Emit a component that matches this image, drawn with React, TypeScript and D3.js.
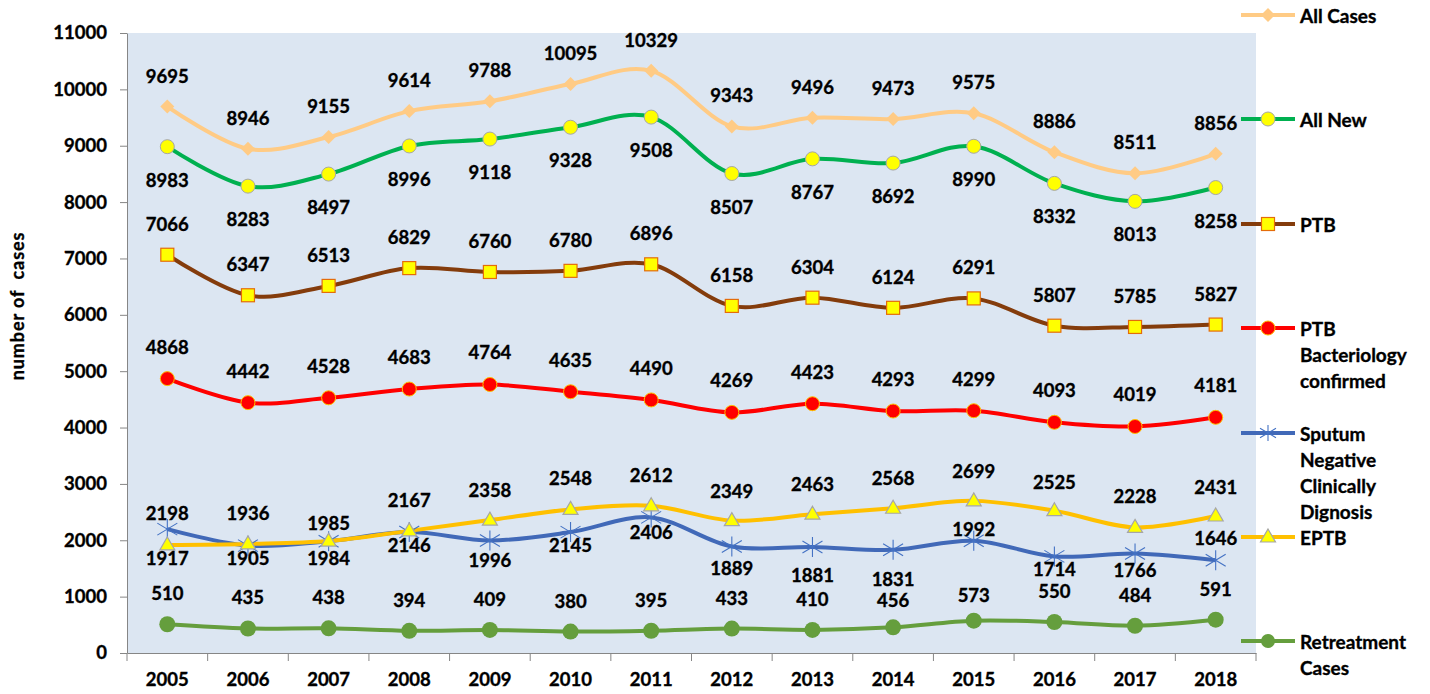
import React, { useEffect, useRef } from 'react';
import * as d3 from 'd3';

const years = ['2005', '2006', '2007', '2008', '2009', '2010', '2011', '2012', '2013', '2014', '2015', '2016', '2017', '2018'];

const allCases = [9695, 8946, 9155, 9614, 9788, 10095, 10329, 9343, 9496, 9473, 9575, 8886, 8511, 8856];
const allNew = [8983, 8283, 8497, 8996, 9118, 9328, 9508, 8507, 8767, 8692, 8990, 8332, 8013, 8258];
const ptb = [7066, 6347, 6513, 6829, 6760, 6780, 6896, 6158, 6304, 6124, 6291, 5807, 5785, 5827];
const ptbBact = [4868, 4442, 4528, 4683, 4764, 4635, 4490, 4269, 4423, 4293, 4299, 4093, 4019, 4181];
const sputumNeg = [2198, 1905, 1984, 2146, 1996, 2145, 2406, 1889, 1881, 1831, 1992, 1714, 1766, 1646];
const eptb = [1917, 1936, 1985, 2167, 2358, 2548, 2612, 2349, 2463, 2568, 2699, 2525, 2228, 2431];
const retreatment = [510, 435, 438, 394, 409, 380, 395, 433, 410, 456, 573, 550, 484, 591];

const yTicks = [0, 1000, 2000, 3000, 4000, 5000, 6000, 7000, 8000, 9000, 10000, 11000];

const FONT = "Lato, 'Open Sans', sans-serif";

// label offsets (px from the point), set by hand like the excel chart
const series = [
  { name: ['All Cases'], values: allCases, color: '#FFCB85', marker: 'diamond', fill: '#FFCB85', stroke: 'none', labelDy: -31, legendY: 15 },
  { name: ['All New'], values: allNew, color: '#00B050', marker: 'circle', fill: '#FFFF00', stroke: '#A6A6A6', labelDy: 33, legendY: 119 },
  { name: ['PTB'], values: ptb, color: '#843C0C', marker: 'square', fill: '#FFFF00', stroke: '#E46C0A', labelDy: -31, legendY: 224 },
  { name: ['PTB', 'Bacteriology', 'confirmed'], values: ptbBact, color: '#FF0000', marker: 'circle', fill: '#FF0000', stroke: '#FFC000', labelDy: -32, legendY: 328 },
  { name: ['Sputum', 'Negative', 'Clinically', 'Dignosis'], values: sputumNeg, color: '#4169B8', marker: 'star', fill: 'none', stroke: '#4472C4',
    labelDy: [-16, 12, 17, 13, 20, 13, 15, 21, 28, 29, -12, 13, 17, -22], legendY: 433 },
  { name: ['EPTB'], values: eptb, color: '#FFC000', marker: 'triangle', fill: '#FFFF00', stroke: '#A6A6A6',
    labelDy: [13, -31, -18, -31, -30, -31, -31, -30, -30, -30, -30, -29, -31, -29], legendY: 537 },
  { name: ['Retreatment', 'Cases'], values: retreatment, color: '#659E3D', marker: 'circle', fill: '#659E3D', stroke: 'none',
    labelDy: [-31, -31, -31, -31, -31, -31, -31, -31, -31, -27, -26, -31, -31, -31], legendY: 641, big: true },
];

function drawMarker(g, type, cx, cy, s) {
  if (type === 'diamond') {
    g.append('path').attr('d', `M${cx},${cy - 7}L${cx + 7},${cy}L${cx},${cy + 7}L${cx - 7},${cy}Z`)
      .attr('fill', s.fill);
  } else if (type === 'circle') {
    g.append('circle').attr('cx', cx).attr('cy', cy).attr('r', s.big ? 8 : 7)
      .attr('fill', s.fill).attr('stroke', s.stroke).attr('stroke-width', 1);
  } else if (type === 'square') {
    g.append('rect').attr('x', cx - 6.5).attr('y', cy - 6.5).attr('width', 13).attr('height', 13)
      .attr('fill', s.fill).attr('stroke', s.stroke).attr('stroke-width', 1.2);
  } else if (type === 'triangle') {
    g.append('path').attr('d', `M${cx},${cy - 8}L${cx + 7.5},${cy + 5}L${cx - 7.5},${cy + 5}Z`)
      .attr('fill', s.fill).attr('stroke', s.stroke).attr('stroke-width', 1.2);
  } else if (type === 'star') {
    const r = s.big === false ? 8 : 10;
    g.append('path')
      .attr('d', `M${cx},${cy - r}V${cy + r}M${cx - r},${cy - r * 0.6}L${cx + r},${cy + r * 0.6}M${cx - r},${cy + r * 0.6}L${cx + r},${cy - r * 0.6}`)
      .attr('stroke', s.stroke).attr('stroke-width', 1.1).attr('fill', 'none');
  }
}

// bold text helper, a hair of stroke to get closer to the excel weight
function boldText(sel, size) {
  return sel
    .attr('font-family', FONT).attr('font-weight', 'bold').attr('font-size', size)
    .attr('fill', '#000').attr('stroke', '#000').attr('stroke-width', 0.35);
}

function App() {
  const svgRef = useRef(null);

  useEffect(() => {
    const svg = d3.select(svgRef.current);
    svg.selectAll('*').remove();

    const left = 127, right = 1256, top = 33, bottom = 653;

    const x = d3.scaleBand().domain(years).range([left, right]).padding(0);
    const y = d3.scaleLinear().domain([0, 11000]).range([bottom, top]);
    const cx = (d) => x(d) + x.bandwidth() / 2;

    svg.append('rect')
      .attr('x', left).attr('y', top)
      .attr('width', right - left).attr('height', bottom - top)
      .attr('fill', '#DCE6F2');

    // y axis
    const yAxis = svg.append('g')
      .attr('transform', `translate(${left},0)`)
      .call(d3.axisLeft(y).tickValues(yTicks).tickFormat(d3.format('d')).tickSize(7).tickSizeOuter(0).tickPadding(13));
    yAxis.selectAll('line, path').attr('stroke', '#868686');
    boldText(yAxis.selectAll('text'), 18.5);

    // x axis
    const xAxis = svg.append('g')
      .attr('transform', `translate(0,${bottom})`)
      .call(d3.axisBottom(x).tickSize(0).tickSizeOuter(0).tickPadding(20));
    xAxis.select('path').attr('stroke', '#868686');
    boldText(xAxis.selectAll('text'), 18.5);
    const bounds = years.map((d) => x(d)).concat([right]);
    svg.append('g').selectAll('line').data(bounds).enter().append('line')
      .attr('x1', (d) => d).attr('x2', (d) => d)
      .attr('y1', bottom).attr('y2', bottom + 8)
      .attr('stroke', '#868686');

    boldText(svg.append('text'), 18)
      .attr('transform', 'translate(24,306) rotate(-90)')
      .attr('text-anchor', 'middle')
      .attr('letter-spacing', 0.9)
      .attr('xml:space', 'preserve')
      .text('number of  cases');

    const line = d3.line()
      .x((d, i) => cx(years[i]))
      .y((d) => y(d))
      .curve(d3.curveCardinal.tension(0));

    series.forEach((s) => {
      svg.append('path')
        .attr('d', line(s.values))
        .attr('fill', 'none')
        .attr('stroke', s.color)
        .attr('stroke-width', 4)
        .attr('stroke-linejoin', 'round');
    });

    series.forEach((s) => {
      const g = svg.append('g');
      s.values.forEach((v, i) => drawMarker(g, s.marker, cx(years[i]), y(v), s));
    });

    series.forEach((s) => {
      boldText(svg.append('g').selectAll('text').data(s.values).enter().append('text'), 18.5)
        .attr('x', (d, i) => cx(years[i]))
        .attr('y', (d, i) => y(d) + (Array.isArray(s.labelDy) ? s.labelDy[i] : s.labelDy))
        .attr('text-anchor', 'middle')
        .attr('dominant-baseline', 'central')
        .text((d) => d);
    });

    // legend
    series.forEach((s) => {
      const g = svg.append('g');
      g.append('line')
        .attr('x1', 1241).attr('x2', 1295)
        .attr('y1', s.legendY).attr('y2', s.legendY)
        .attr('stroke', s.color).attr('stroke-width', 4);
      drawMarker(g, s.marker, 1268, s.legendY, { ...s, big: false });
      s.name.forEach((t, j) => {
        boldText(g.append('text'), 19)
          .attr('x', 1300).attr('y', s.legendY + j * 26)
          .attr('dominant-baseline', 'central')
          .text(t);
      });
    });
  }, []);

  return (
    <svg ref={svgRef} width={1430} height={694}
      style={{ position: 'absolute', left: 0, top: 0, background: '#fff' }} />
  );
}

export default App;
